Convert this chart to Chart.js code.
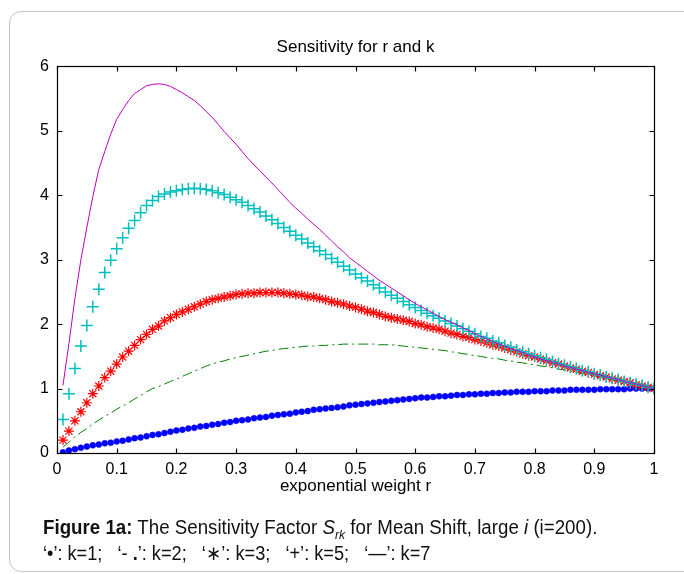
<!DOCTYPE html>
<html>
<head>
<meta charset="utf-8">
<script src="https://cdn.jsdelivr.net/npm/chart.js@4.4.1/dist/chart.umd.min.js"></script>
<style>
  body { margin: 0; background: #fff; }
  #wrap { position: relative; width: 684px; height: 574px; overflow: hidden; }
  #frame { position: absolute; left: 9px; top: 11px; width: 700px; height: 559px;
           border: 1px solid #c4c4c4; border-radius: 12px; }
  #chart { position: absolute; left: 0; top: 0; }
  .cap { position: absolute; left: 43px; font-family: "Liberation Sans", Arial, sans-serif;
         font-size: 20px; line-height: 25px; color: #111; white-space: nowrap;
         transform-origin: 0 50%; }
</style>
</head>
<body>
<div id="wrap">
  <div id="frame"></div>
  <canvas id="chart" width="684" height="574"></canvas>
  <div class="cap" id="cap1" style="top:515px"><b>Figure 1a:</b> The Sensitivity Factor <i>S</i><sub style="font-size:13px"><i>rk</i></sub> for Mean Shift, large <i>i</i> (i=200).</div>
  <div class="cap" id="cap2" style="top:541px">‘•’: k=1;&nbsp;&nbsp; ‘- <b>.</b>’: k=2;&nbsp;&nbsp; ‘∗’: k=3;&nbsp;&nbsp; ‘+’: k=5;&nbsp;&nbsp; ‘—’: k=7</div>
</div>
<script>
// exponential weight r
const rValues = [
  0.01, 0.02, 0.03, 0.04, 0.05, 0.06, 0.07, 0.08, 0.09, 0.10,
  0.11, 0.12, 0.13, 0.14, 0.15, 0.16, 0.17, 0.18, 0.19, 0.20,
  0.21, 0.22, 0.23, 0.24, 0.25, 0.26, 0.27, 0.28, 0.29, 0.30,
  0.31, 0.32, 0.33, 0.34, 0.35, 0.36, 0.37, 0.38, 0.39, 0.40,
  0.41, 0.42, 0.43, 0.44, 0.45, 0.46, 0.47, 0.48, 0.49, 0.50,
  0.51, 0.52, 0.53, 0.54, 0.55, 0.56, 0.57, 0.58, 0.59, 0.60,
  0.61, 0.62, 0.63, 0.64, 0.65, 0.66, 0.67, 0.68, 0.69, 0.70,
  0.71, 0.72, 0.73, 0.74, 0.75, 0.76, 0.77, 0.78, 0.79, 0.80,
  0.81, 0.82, 0.83, 0.84, 0.85, 0.86, 0.87, 0.88, 0.89, 0.90,
  0.91, 0.92, 0.93, 0.94, 0.95, 0.96, 0.97, 0.98, 0.99, 1.00
];

// k=1 (dots)
const sK1 = [
  0.01, 0.04, 0.06, 0.08, 0.10, 0.12, 0.13, 0.15, 0.16, 0.18,
  0.19, 0.21, 0.23, 0.24, 0.26, 0.28, 0.29, 0.31, 0.33, 0.35,
  0.36, 0.38, 0.39, 0.41, 0.42, 0.44, 0.45, 0.47, 0.48, 0.50,
  0.51, 0.52, 0.54, 0.55, 0.56, 0.58, 0.59, 0.60, 0.61, 0.63,
  0.64, 0.65, 0.67, 0.68, 0.69, 0.70, 0.71, 0.72, 0.74, 0.75,
  0.76, 0.77, 0.78, 0.79, 0.80, 0.81, 0.82, 0.83, 0.84, 0.85,
  0.86, 0.86, 0.87, 0.88, 0.88, 0.89, 0.90, 0.90, 0.91, 0.91,
  0.92, 0.92, 0.93, 0.93, 0.94, 0.94, 0.95, 0.95, 0.95, 0.96,
  0.96, 0.96, 0.97, 0.97, 0.97, 0.98, 0.98, 0.98, 0.98, 0.98,
  0.99, 0.99, 0.99, 0.99, 0.99, 1.00, 1.00, 1.00, 1.00, 1.00
];

// k=2 (dash-dot)
const sK2 = [
  0.09, 0.17, 0.25, 0.32, 0.38, 0.45, 0.51, 0.57, 0.62, 0.68,
  0.73, 0.78, 0.84, 0.89, 0.95, 1.00, 1.03, 1.07, 1.11, 1.15,
  1.19, 1.23, 1.27, 1.31, 1.35, 1.38, 1.41, 1.43, 1.46, 1.48,
  1.50, 1.52, 1.54, 1.56, 1.58, 1.59, 1.61, 1.62, 1.63, 1.64,
  1.65, 1.66, 1.66, 1.67, 1.67, 1.68, 1.68, 1.69, 1.69, 1.69,
  1.69, 1.69, 1.69, 1.68, 1.68, 1.68, 1.67, 1.66, 1.65, 1.64,
  1.63, 1.62, 1.61, 1.60, 1.59, 1.57, 1.56, 1.54, 1.53, 1.51,
  1.50, 1.48, 1.47, 1.46, 1.44, 1.43, 1.41, 1.40, 1.38, 1.37,
  1.35, 1.34, 1.32, 1.30, 1.29, 1.27, 1.25, 1.23, 1.22, 1.20,
  1.18, 1.16, 1.14, 1.12, 1.10, 1.08, 1.06, 1.04, 1.02, 1.00
];

// k=3 (asterisks)
const sK3 = [
  0.20, 0.34, 0.50, 0.64, 0.78, 0.92, 1.04, 1.17, 1.27, 1.38,
  1.49, 1.58, 1.67, 1.76, 1.84, 1.92, 1.97, 2.05, 2.10, 2.15,
  2.19, 2.23, 2.27, 2.31, 2.35, 2.38, 2.40, 2.42, 2.44, 2.46,
  2.47, 2.48, 2.48, 2.49, 2.49, 2.49, 2.49, 2.48, 2.47, 2.46,
  2.45, 2.43, 2.42, 2.40, 2.38, 2.35, 2.33, 2.31, 2.28, 2.26,
  2.23, 2.20, 2.18, 2.15, 2.12, 2.10, 2.08, 2.06, 2.04, 2.01,
  1.99, 1.96, 1.94, 1.92, 1.89, 1.86, 1.84, 1.81, 1.79, 1.76,
  1.74, 1.71, 1.68, 1.66, 1.63, 1.60, 1.57, 1.54, 1.51, 1.49,
  1.46, 1.43, 1.40, 1.38, 1.35, 1.32, 1.30, 1.27, 1.25, 1.22,
  1.20, 1.18, 1.15, 1.13, 1.11, 1.09, 1.06, 1.04, 1.02, 1.00
];

// k=5 (plus signs)
const sK5 = [
  0.52, 0.92, 1.31, 1.66, 1.98, 2.27, 2.54, 2.80, 2.99, 3.17,
  3.34, 3.49, 3.61, 3.73, 3.84, 3.92, 3.98, 4.02, 4.05, 4.07,
  4.09, 4.10, 4.11, 4.10, 4.09, 4.07, 4.04, 4.01, 3.97, 3.93,
  3.89, 3.84, 3.79, 3.74, 3.68, 3.62, 3.56, 3.50, 3.44, 3.38,
  3.32, 3.26, 3.20, 3.14, 3.08, 3.02, 2.96, 2.90, 2.84, 2.78,
  2.72, 2.67, 2.61, 2.56, 2.50, 2.45, 2.40, 2.35, 2.30, 2.26,
  2.21, 2.17, 2.13, 2.09, 2.05, 2.01, 1.97, 1.93, 1.89, 1.85,
  1.81, 1.78, 1.74, 1.71, 1.67, 1.64, 1.60, 1.57, 1.54, 1.51,
  1.48, 1.45, 1.42, 1.39, 1.36, 1.34, 1.31, 1.28, 1.26, 1.23,
  1.21, 1.18, 1.16, 1.14, 1.11, 1.09, 1.07, 1.05, 1.02, 1.00
];

// k=7 (solid line)
const sK7 = [
  1.05, 1.70, 2.40, 3.00, 3.50, 3.98, 4.40, 4.68, 4.95, 5.18,
  5.33, 5.47, 5.58, 5.64, 5.70, 5.72, 5.73, 5.72, 5.69, 5.64,
  5.59, 5.53, 5.47, 5.39, 5.30, 5.21, 5.10, 4.99, 4.89, 4.79,
  4.68, 4.57, 4.47, 4.38, 4.28, 4.19, 4.09, 3.99, 3.89, 3.80,
  3.72, 3.63, 3.55, 3.47, 3.38, 3.29, 3.20, 3.12, 3.03, 2.96,
  2.89, 2.82, 2.75, 2.68, 2.62, 2.56, 2.50, 2.44, 2.38, 2.32,
  2.27, 2.22, 2.17, 2.12, 2.07, 2.03, 1.99, 1.94, 1.90, 1.85,
  1.81, 1.77, 1.73, 1.69, 1.66, 1.62, 1.59, 1.56, 1.52, 1.49,
  1.46, 1.43, 1.41, 1.38, 1.35, 1.33, 1.30, 1.28, 1.25, 1.23,
  1.21, 1.18, 1.16, 1.14, 1.11, 1.09, 1.07, 1.05, 1.02, 1.00
];

const xTicksStep = 0.1;
const yTicksStep = 1;

function pts(ys) {
  return rValues.map((r, i) => ({ x: r, y: ys[i] }));
}

const FONT = '"Liberation Sans", Arial, sans-serif';

// squeeze the caption to the narrow face of the original
const cap1 = document.getElementById('cap1');
const cap2 = document.getElementById('cap2');
const capScale = 554 / cap1.scrollWidth;
cap1.style.transform = 'scaleX(' + capScale + ')';
cap2.style.transform = 'scaleX(' + (387 / cap2.scrollWidth) + ')';

// matlab style box with inward ticks
const boxPlugin = {
  id: 'matlabBox',
  afterDraw(chart) {
    const ctx = chart.ctx;
    const a = chart.chartArea;
    const xs = chart.scales.x, ys = chart.scales.y;
    const L = Math.round(a.left) + 0.5, R = Math.round(a.right) + 0.5;
    const T = Math.round(a.top) + 0.5, B = Math.round(a.bottom) + 0.5;
    ctx.save();
    ctx.strokeStyle = '#000';
    ctx.lineWidth = 1.2;
    ctx.strokeRect(L, T, R - L, B - T);
    ctx.beginPath();
    xs.ticks.forEach(t => {
      const px = Math.round(xs.getPixelForValue(t.value)) + 0.5;
      ctx.moveTo(px, B); ctx.lineTo(px, B - 5);
      ctx.moveTo(px, T); ctx.lineTo(px, T + 5);
    });
    ys.ticks.forEach(t => {
      const py = Math.round(ys.getPixelForValue(t.value)) + 0.5;
      ctx.moveTo(L, py); ctx.lineTo(L + 5, py);
      ctx.moveTo(R, py); ctx.lineTo(R - 5, py);
    });
    ctx.stroke();
    ctx.restore();
  }
};

new Chart(document.getElementById('chart'), {
  type: 'line',
  data: {
    datasets: [
      {
        label: 'k=1', data: pts(sK1), order: 5,
        showLine: false, pointStyle: 'circle', pointRadius: 3,
        pointBackgroundColor: '#0000ff', pointBorderColor: '#0000ff', pointBorderWidth: 0.5
      },
      {
        label: 'k=2', data: pts(sK2), order: 4,
        borderColor: '#008000', borderWidth: 1, borderDash: [10, 4, 2, 4],
        pointRadius: 0, tension: 0
      },
      {
        label: 'k=3', data: pts(sK3), order: 3,
        showLine: false, pointStyle: 'star', pointRadius: 5,
        pointBorderColor: '#ff0000', pointBackgroundColor: '#ff0000', pointBorderWidth: 1.2
      },
      {
        label: 'k=5', data: pts(sK5), order: 2,
        showLine: false, pointStyle: 'cross', pointRadius: 6,
        pointBorderColor: '#00bfbf', pointBackgroundColor: '#00bfbf', pointBorderWidth: 1.5
      },
      {
        label: 'k=7', data: pts(sK7), order: 1,
        borderColor: '#bf00bf', borderWidth: 1, pointRadius: 0, tension: 0
      }
    ]
  },
  options: {
    responsive: false,
    animation: false,
    devicePixelRatio: 1,
    layout: { autoPadding: false, padding: { left: 0, right: 30, top: 0, bottom: 71 } },
    plugins: {
      legend: { display: false },
      tooltip: { enabled: false },
      title: {
        display: true,
        fullSize: false,
        text: 'Sensitivity for r and k',
        color: '#000',
        font: { family: FONT, size: 17, weight: 'normal' },
        padding: { top: 37, bottom: 9 }
      }
    },
    scales: {
      x: {
        type: 'linear', min: 0, max: 1,
        afterFit(s) { s.height = 50; },
        grid: { display: false, drawTicks: false },
        border: { display: false },
        ticks: {
          stepSize: xTicksStep, padding: 7, color: '#000', maxRotation: 0,
          font: { family: FONT, size: 16 },
          callback: v => String(+v.toFixed(1))
        },
        title: {
          display: true, text: 'exponential weight r', color: '#000',
          font: { family: FONT, size: 17 }, padding: { top: 0, bottom: 6 }
        }
      },
      y: {
        type: 'linear', min: 0, max: 6,
        afterFit(s) { s.width = 57; },
        grid: { display: false, drawTicks: false },
        border: { display: false },
        ticks: { stepSize: yTicksStep, padding: 8, color: '#000', font: { family: FONT, size: 16 } }
      }
    }
  },
  plugins: [boxPlugin]
});
</script>
</body>
</html>
